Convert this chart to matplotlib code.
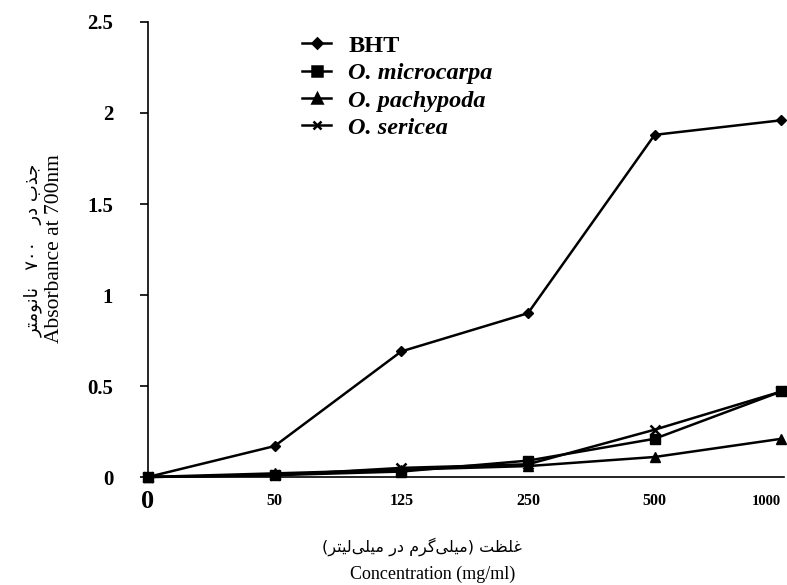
import matplotlib
matplotlib.use("Agg")
import matplotlib.pyplot as plt
from matplotlib.lines import Line2D

# ---- data -------------------------------------------------------------
concentrations = ["0", "50", "125", "250", "500", "1000"]
bht = [0.0, 0.17, 0.69, 0.90, 1.88, 1.96]
microcarpa = [0.0, 0.01, 0.03, 0.09, 0.21, 0.47]
pachypoda = [0.0, 0.02, 0.04, 0.06, 0.11, 0.21]
sericea = [0.0, 0.01, 0.05, 0.07, 0.26, 0.47]
series_names = ["BHT", "O. microcarpa", "O. pachypoda", "O. sericea"]
y_ticks = [0, 0.5, 1, 1.5, 2, 2.5]
y_tick_labels = ["0", "0.5", "1", "1.5", "2", "2.5"]

ylabel_fa = "جذب در   ۷۰۰   نانومتر"
ylabel_en = "Absorbance at 700nm"
xlabel_fa = "غلظت (میلی‌گرم در میلی‌لیتر)"
xlabel_en = "Concentration (mg/ml)"

# ---- minimal Arabic-script shaping (matplotlib has no complex layout) --
# forms: (isolated, final, initial, medial); right-joining letters have 2
FORMS = {
    "ا": ("\uFE8D", "\uFE8E"),
    "ب": ("\uFE8F", "\uFE90", "\uFE91", "\uFE92"),
    "ت": ("\uFE95", "\uFE96", "\uFE97", "\uFE98"),
    "ج": ("\uFE9D", "\uFE9E", "\uFE9F", "\uFEA0"),
    "د": ("\uFEA9", "\uFEAA"),
    "ذ": ("\uFEAB", "\uFEAC"),
    "ر": ("\uFEAD", "\uFEAE"),
    "ظ": ("\uFEC5", "\uFEC6", "\uFEC7", "\uFEC8"),
    "غ": ("\uFECD", "\uFECE", "\uFECF", "\uFED0"),
    "ل": ("\uFEDD", "\uFEDE", "\uFEDF", "\uFEE0"),
    "م": ("\uFEE1", "\uFEE2", "\uFEE3", "\uFEE4"),
    "ن": ("\uFEE5", "\uFEE6", "\uFEE7", "\uFEE8"),
    "و": ("\uFEED", "\uFEEE"),
    "ی": ("\uFBFC", "\uFBFD", "\uFBFE", "\uFBFF"),
    "گ": ("\uFB92", "\uFB93", "\uFB94", "\uFB95"),
}


def shape_rtl(text):
    chars = list(text)
    out = []
    for i, c in enumerate(chars):
        if c not in FORMS:
            if c == "\u200c":
                continue
            out.append(c)
            continue
        prev = chars[i - 1] if i > 0 else None
        nxt = chars[i + 1] if i + 1 < len(chars) else None
        join_prev = prev in FORMS and len(FORMS[prev]) == 4
        join_next = len(FORMS[c]) == 4 and nxt in FORMS
        f = FORMS[c]
        if join_prev and join_next:
            g = f[3]
        elif join_prev:
            g = f[1]
        elif join_next:
            g = f[2]
        else:
            g = f[0]
        out.append(g)
    # visual order: reverse, keep digit runs left-to-right, mirror brackets
    vis = out[::-1]
    res, run = [], []
    for c in vis:
        if c.isdigit():
            run.append(c)
        else:
            if run:
                res.extend(run[::-1])
                run = []
            res.append({"(": ")", ")": "("}.get(c, c))
    if run:
        res.extend(run[::-1])
    return "".join(res)


# ---- figure -----------------------------------------------------------
fig = plt.figure(figsize=(7.87, 5.85), dpi=100)
ax = fig.add_axes([0.188, 0.1846, 0.808, 0.7778])

x = list(range(len(concentrations)))
style = dict(color="black", linewidth=1.8, clip_on=False, zorder=3)
ax.plot(x, bht, marker="D", markersize=5.5, label=series_names[0], **style)
ax.plot(x, microcarpa, marker="s", markersize=6.5, label=series_names[1], **style)
ax.plot(x, pachypoda, marker="^", markersize=7, label=series_names[2], **style)
ax.plot(x, sericea, marker="x", markersize=6.5, markeredgewidth=1.8,
        label=series_names[3], **style)

ax.set_xlim(0, 5.02)
ax.set_ylim(0, 2.5)
for s in ("top", "right"):
    ax.spines[s].set_visible(False)
ax.spines["left"].set_linewidth(1.2)
ax.spines["bottom"].set_linewidth(1.2)

ax.set_yticks(y_ticks)
ax.set_yticklabels(y_tick_labels, fontfamily="Liberation Serif",
                   fontweight="bold", fontsize=15)
ax.tick_params(axis="y", direction="out", length=6, width=1.2, pad=19)

ax.set_xticks(x)
ax.set_xticklabels(concentrations, fontfamily="Liberation Serif",
                   fontweight="bold", fontsize=11.5)
ax.tick_params(axis="x", length=0, pad=17.5)
xt = ax.get_xticklabels()
for t in xt:
    t.set_verticalalignment("center")
xt[0].set_fontsize(19)
xt[-1].set_fontsize(10.5)
xt[-1].set_horizontalalignment("right")

# legend
handles = [Line2D([], [], color="black", linewidth=1.8, marker=m, markersize=ms,
                  markeredgewidth=1.8)
           for m, ms in (("D", 5), ("s", 6.5), ("^", 7), ("x", 5.5))]
leg = ax.legend(handles, series_names, loc="upper left",
                bbox_to_anchor=(0.208, 1.02), frameon=False,
                handlelength=1.2, handletextpad=0.7, labelspacing=0.22,
                prop=dict(family="Liberation Serif", weight="bold", size=17.5))
for i, t in enumerate(leg.get_texts()):
    if i > 0:
        t.set_fontstyle("italic")

# axis titles (Persian + English)
fig.text(33 / 787, 1 - 250 / 585, shape_rtl(ylabel_fa), rotation=90,
         ha="center", va="center", fontfamily="DejaVu Sans", fontsize=13)
fig.text(55 / 787, 1 - 249 / 585, ylabel_en, rotation=90, ha="center",
         va="center", fontfamily="Liberation Serif", fontsize=15.5)
fig.text(422 / 787, 1 - 547 / 585, shape_rtl(xlabel_fa), ha="center",
         va="center", fontfamily="DejaVu Sans", fontsize=11.5)
fig.text(433 / 787, 1 - 574 / 585, xlabel_en, ha="center", va="center",
         fontfamily="Liberation Serif", fontsize=13)

fig.savefig("out.png", dpi=100)
